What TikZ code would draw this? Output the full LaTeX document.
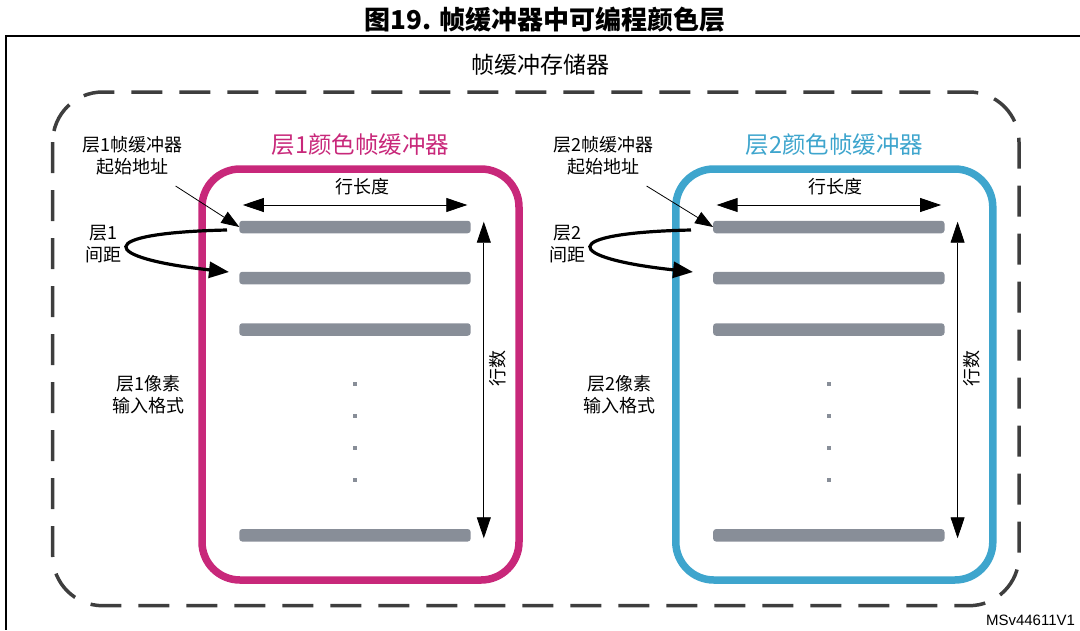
\documentclass[tikz,border=0pt]{standalone}
\usepackage{fontspec}
\setmainfont{Noto Sans CJK SC}
\newfontfamily\arialf{Liberation Sans}
\usetikzlibrary{arrows.meta}
\definecolor{magL}{RGB}{200,40,122}
\definecolor{blueL}{RGB}{62,165,205}
\definecolor{barg}{RGB}{136,142,152}
\definecolor{dashg}{RGB}{62,62,62}
\begin{document}
\begin{tikzpicture}[x=1pt,y=-1pt,
  every node/.style={inner sep=0pt, outer sep=0pt},
  lbl/.style={font=\fontsize{18}{22}\selectfont, align=center},
  bar/.style={fill=barg, rounded corners=3pt, minimum width=231.4pt, minimum height=12.5pt},
  dotm/.style={fill=barg, minimum size=4pt},
  fbbox/.style={line width=7.5pt, rounded corners=38pt},
  dimarrow/.style={line width=0.8pt, {Triangle[length=21pt,width=14pt]}-{Triangle[length=21pt,width=14pt]}},
  ptrarrow/.style={line width=0.8pt, -{Triangle[length=18pt,width=13pt]}},
  looparrow/.style={line width=3.2pt, -{Triangle[length=20pt,width=16pt]}},
  memdash/.style={draw=dashg, line width=3.5pt, dash pattern=on 31pt off 17pt, rounded corners=50pt}
]
\useasboundingbox (0,0) rectangle (1080,630);
% frame
\draw[line width=1.8pt] (1080,35.7) -- (5.9,35.7) -- (5.9,630);
\node[font=\fontsize{26}{30}\selectfont\bfseries] (title) at (545,20) {图19. 帧缓冲器中可编程颜色层};
\node[font=\fontsize{23}{26}\selectfont] (mem) at (540,65) {帧缓冲存储器};
\draw[memdash] (52.7,92) rectangle (1019,605.7);
\node[font=\arialf\fontsize{15}{18}\selectfont, anchor=east] (ref) at (1075,620) {MSv44611V1};

\foreach \i/\ox/\ol/\oc/\col in {1/0/0/0/magL, 2/473.8/471/464/blueL}{
  \draw[fbbox, draw=\col] (\ox+202,169) rectangle (\ox+519,580);
  \node[font=\fontsize{23.5}{28}\selectfont, text=\col] (ttl\i) at (\ox+360.5,145) {层{\i}颜色帧缓冲器};
  \node[bar] (b\i a) at (\ox+355,227) {};
  \node[bar] (b\i b) at (\ox+355,278) {};
  \node[bar] (b\i c) at (\ox+355,329.5) {};
  \node[bar] (b\i d) at (\ox+355,535.3) {};
  \foreach \yy in {384,416,448,480}{
    \node[dotm] (d\i-\yy) at (\ox+355,\yy) {};
  }
  % row length
  \coordinate (rla\i) at (\ox+242.8,205);
  \coordinate (rlb\i) at (\ox+467.3,205);
  \draw[dimarrow] (rla\i) -- (rlb\i);
  \node[lbl] (rl\i) at (\ox+362,187) {行长度};
  % number of rows
  \coordinate (rna\i) at (\ox+483.8,221.7);
  \coordinate (rnb\i) at (\ox+483.8,538.3);
  \draw[dimarrow] (rna\i) -- (rnb\i);
  \node[lbl, rotate=90] (rn\i) at (\ox+497.6,368) {行数};
  % start address
  \node[lbl] (sa\i) at (\ol+132.6,156) {层{\i}帧缓冲器\\起始地址};
  \coordinate (sas\i) at (\ol+175.6,186);
  \draw[ptrarrow] (sas\i) -- (b\i a.west);
  % pitch
  \node[lbl] (sp\i) at (\oc+103.3,244) {层{\i}\\间距};
  \coordinate (ls\i) at (\oc+227,230);
  \coordinate (le\i) at (\oc+229,272);
  \draw[looparrow] (ls\i) .. controls (\oc+90,233) and (\oc+100,258) .. (le\i);
  % pixel format
  \node[lbl] (pf\i) at (\ol+148.8,395) {层{\i}像素\\输入格式};
}
\end{tikzpicture}
\end{document}
